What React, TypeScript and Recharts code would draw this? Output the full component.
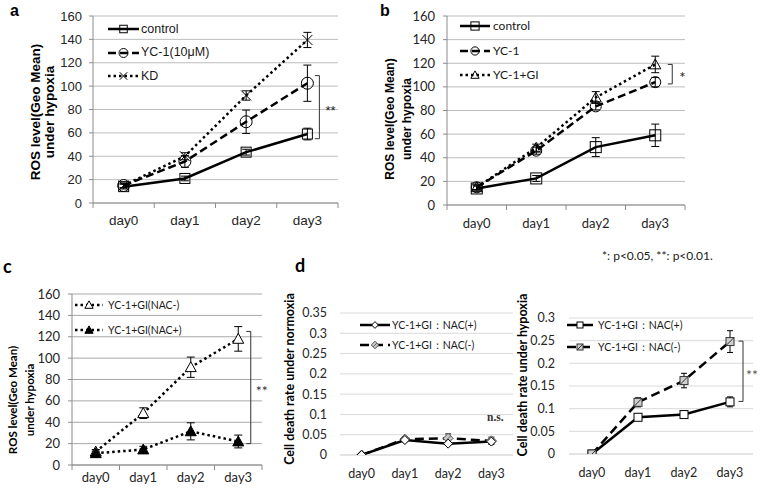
import React from 'react';
import { LineChart, Line, XAxis, YAxis, CartesianGrid, ErrorBar, Legend, ReferenceLine } from 'recharts';

// ---------- data ----------
const days = ['day0', 'day1', 'day2', 'day3'];
const dayIdx = [0, 1, 2, 3];
const rosTicks = [0, 20, 40, 60, 80, 100, 120, 140, 160];
const normoxiaTicks = [0, 0.05, 0.1, 0.15, 0.2, 0.25, 0.3, 0.35];
const hypoxiaTicks = [0, 0.05, 0.1, 0.15, 0.2, 0.25, 0.3];

// panel a
const aControl = [14, 21, 43.5, 59];
const aControlErr = [2, 2, 2.5, 5];
const aYC1 = [15, 35.5, 69.5, 102.5];
const aYC1Err = [2, 5, 10, 15.5];
const aKD = [15, 40, 92, 139.5];
const aKDErr = [2, 3, 4, 6.5];
const aSig = [109, 55];

// panel b
const bControl = [14, 22.5, 49, 59];
const bControlErr = [2, 2.5, 8, 9.5];
const bYC1 = [15, 46, 83.5, 104];
const bYC1Err = [2, 3, 3, 4];
const bGI = [15, 48.5, 91, 119];
const bGIErr = [2, 3, 5, 7];
const bSig = [119, 102.5];

// panel c
const cNACm = [12.5, 48.5, 91.5, 118];
const cNACmErr = [2, 5, 9.5, 11.5];
const cNACp = [11, 14.5, 31.5, 22];
const cNACpErr = [2, 3, 8, 6];
const cSig = [125, 20];

// panel d (normoxia)
const dnPlus = [0, 0.037, 0.028, 0.033];
const dnPlusErr = [0, 0.004, 0.004, 0.004];
const dnMinus = [0, 0.039, 0.041, 0.035];
const dnMinusErr = [0, 0.006, 0.011, 0.009];

// panel d (hypoxia)
const dhPlus = [0, 0.081, 0.087, 0.115];
const dhPlusErr = [0, 0.004, 0.007, 0.011];
const dhMinus = [0, 0.114, 0.162, 0.248];
const dhMinusErr = [0, 0.01, 0.016, 0.024];
const dSig = [0.249, 0.116];

// ---------- tables ----------
const rowsA = dayIdx.map((i) => ({ idx: i, day: days[i], control: aControl[i], controlErr: aControlErr[i], yc1: aYC1[i], yc1Err: aYC1Err[i], kd: aKD[i], kdErr: aKDErr[i] }));
const rowsB = dayIdx.map((i) => ({ idx: i, day: days[i], control: bControl[i], controlErr: bControlErr[i], yc1: bYC1[i], yc1Err: bYC1Err[i], gi: bGI[i], giErr: bGIErr[i] }));
const rowsC = dayIdx.map((i) => ({ idx: i, day: days[i], m: cNACm[i], mErr: cNACmErr[i], p: cNACp[i], pErr: cNACpErr[i] }));
const rowsDN = dayIdx.map((i) => ({ idx: i, day: days[i], p: dnPlus[i], pErr: dnPlusErr[i], m: dnMinus[i], mErr: dnMinusErr[i] }));
const rowsDH = dayIdx.map((i) => ({ idx: i, day: days[i], p: dhPlus[i], pErr: dhPlusErr[i], m: dhMinus[i], mErr: dhMinusErr[i] }));

const ARIAL = '"Liberation Sans", Arial, sans-serif';
const CAL = 'Lato, "Noto Sans", sans-serif';

// ---------- markers ----------
function Marker({ kind, cx, cy, size }: { kind: string; cx: number; cy: number; size: number }) {
  const h = size / 2;
  switch (kind) {
    case 'square':
      return <rect x={cx - h} y={cy - h} width={size} height={size} fill="none" stroke="#000" strokeWidth={1} />;
    case 'squareWhite':
      return <rect x={cx - h} y={cy - h} width={size} height={size} fill="#fff" stroke="#000" strokeWidth={1} />;
    case 'squareHatch':
      return (
        <g>
          <rect x={cx - h} y={cy - h} width={size} height={size} fill="#cfcfcf" stroke="#333" strokeWidth={1} />
          <line x1={cx - h} y1={cy + h} x2={cx + h} y2={cy - h} stroke="#333" strokeWidth={1} />
        </g>
      );
    case 'circle':
      return <circle cx={cx} cy={cy} r={h} fill="none" stroke="#000" strokeWidth={1} />;
    case 'cross':
      return <path d={`M${cx - h},${cy - h}L${cx + h},${cy + h}M${cx - h},${cy + h}L${cx + h},${cy - h}`} stroke="#000" strokeWidth={1} fill="none" />;
    case 'triangle':
      return <path d={`M${cx},${cy - h}L${cx + h},${cy + h * 0.8}L${cx - h},${cy + h * 0.8}Z`} fill="none" stroke="#000" strokeWidth={1} />;
    case 'triangleWhite':
      return <path d={`M${cx},${cy - h}L${cx + h},${cy + h * 0.8}L${cx - h},${cy + h * 0.8}Z`} fill="#fff" stroke="#000" strokeWidth={1} />;
    case 'triangleFilled':
      return <path d={`M${cx},${cy - h}L${cx + h},${cy + h * 0.8}L${cx - h},${cy + h * 0.8}Z`} fill="#000" stroke="#000" strokeWidth={1} />;
    case 'diamond':
      return <path d={`M${cx},${cy - h}L${cx + h},${cy}L${cx},${cy + h}L${cx - h},${cy}Z`} fill="#fff" stroke="#000" strokeWidth={1} />;
    case 'diamondHatch':
      return (
        <g>
          <path d={`M${cx},${cy - h}L${cx + h},${cy}L${cx},${cy + h}L${cx - h},${cy}Z`} fill="#c8c8c8" stroke="#555" strokeWidth={1} />
          <line x1={cx - h / 2} y1={cy + h / 2} x2={cx + h / 2} y2={cy - h / 2} stroke="#666" strokeWidth={1} />
        </g>
      );
    default:
      return null;
  }
}

type Series = { key: string; err: string; name: string; dash?: string; width: number; marker: string; size: number };

function LegendBox({ items, rowH, lineLen, gap, font, fontSize }: any) {
  return (
    <div style={{ display: 'flex', flexDirection: 'column' }}>
      {items.map((s: Series) => (
        <div key={s.key} style={{ height: rowH, display: 'flex', alignItems: 'center', whiteSpace: 'nowrap' }}>
          <svg width={lineLen} height={14} style={{ display: 'block' }}>
            <line x1={0} y1={7} x2={lineLen} y2={7} stroke="#000" strokeWidth={s.width} strokeDasharray={s.dash} />
            <Marker kind={s.marker} cx={lineLen / 2} cy={7} size={Math.max(6, s.size * 0.75)} />
          </svg>
          <span style={{ marginLeft: gap, fontFamily: font, fontSize, color: '#1a1a1a', lineHeight: 1 }}>{s.name}</span>
        </div>
      ))}
    </div>
  );
}

function Panel(cfg: any) {
  const { box, yw, mt, mr, xh, data, series, legendOrder, yDomain, yTicks, yFmt, font, yFont, xFont, grid, axis, yLine, xMarks, xGap, yTickMargin, cap, legend, sig } = cfg;
  const plotW = box.x1 - box.x0;
  const plotH = box.y1 - box.y0;
  const W = plotW + yw + mr;
  const H = plotH + mt + xh;
  const band = plotW / 4;
  const axisY = mt + plotH;
  const legendItems = legendOrder ? legendOrder.map((k: string) => series.find((s: Series) => s.key === k)) : series;

  const xTick = (p: any) => {
    const x = p.x;
    const i = p.payload.value;
    return (
      <g>
        {xMarks && <line x1={x - band / 2} x2={x - band / 2} y1={axisY} y2={axisY + 5} stroke={axis} strokeWidth={1} />}
        {xMarks && i === dayIdx[dayIdx.length - 1] && <line x1={x + band / 2} x2={x + band / 2} y1={axisY} y2={axisY + 5} stroke={axis} strokeWidth={1} />}
        <text x={x} y={axisY + xGap} textAnchor="middle" dominantBaseline="central" fontFamily={font} fontSize={xFont} fill="#262626">
          {days[i]}
        </text>
      </g>
    );
  };

  return (
    <div style={{ position: 'absolute', left: box.x0 - yw, top: box.y0 - mt, width: W, height: H }}>
      <LineChart width={W} height={H} data={data} margin={{ top: mt, right: mr, bottom: 0, left: 0 }}>
        <CartesianGrid vertical={false} stroke={grid} strokeWidth={1} />
        <XAxis
          type="number"
          dataKey="idx"
          domain={[-0.5, 3.5]}
          ticks={dayIdx}
          interval={0}
          height={xh}
          allowDataOverflow
          axisLine={{ stroke: axis, strokeWidth: 1 }}
          tickLine={false}
          tick={xTick}
        />
        <YAxis
          type="number"
          domain={yDomain}
          ticks={yTicks}
          interval={0}
          width={yw}
          allowDataOverflow
          axisLine={yLine ? { stroke: axis, strokeWidth: 1 } : false}
          tickLine={yLine ? { stroke: axis, strokeWidth: 1 } : false}
          tickSize={4}
          tickMargin={yTickMargin}
          tick={{ fill: '#262626', fontSize: yFont, fontFamily: font }}
          tickFormatter={yFmt}
        />
        {series.map((s: Series) => (
          <Line
            key={s.key}
            type="linear"
            dataKey={s.key}
            name={s.name}
            stroke="#000"
            strokeWidth={s.width}
            strokeDasharray={s.dash}
            activeDot={false}
            isAnimationActive={false}
            dot={(p: any) => <Marker key={`${s.key}-${p.index}`} kind={s.marker} cx={p.cx} cy={p.cy} size={s.size} />}
          >
            <ErrorBar dataKey={s.err} width={cap} strokeWidth={1} stroke="#000" direction="y" />
          </Line>
        ))}
        {sig && (
          <ReferenceLine
            segment={[{ x: dayIdx[3], y: sig.vals[0] }, { x: dayIdx[3], y: sig.vals[1] }]}
            shape={(p: any) => {
              const bx = p.x1 + sig.off;
              return (
                <g>
                  <path d={`M${bx - 4.5},${p.y1}H${bx}V${p.y2}H${bx - 4.5}`} stroke="#333" strokeWidth={1} fill="none" />
                  <text x={bx + sig.textOff} y={(p.y1 + p.y2) / 2 + 3} dominantBaseline="central" fontFamily={sig.font} fontSize={sig.size} fill={sig.color}>
                    {sig.label}
                  </text>
                </g>
              );
            }}
          />
        )}
        <Legend
          layout="vertical"
          align="center"
          verticalAlign="middle"
          wrapperStyle={{ left: legend.left, top: legend.top, width: 'auto', height: 'auto' }}
          content={() => <LegendBox items={legendItems} rowH={legend.rowH} lineLen={legend.lineLen} gap={legend.gap} font={font} fontSize={legend.fontSize} />}
        />
      </LineChart>
    </div>
  );
}

const seriesA: Series[] = [
  { key: 'control', err: 'controlErr', name: 'control', width: 2.5, marker: 'square', size: 10 },
  { key: 'yc1', err: 'yc1Err', name: 'YC-1(10μM)', dash: '8 4', width: 2.5, marker: 'circle', size: 12 },
  { key: 'kd', err: 'kdErr', name: 'KD', dash: '2.5 3', width: 2.5, marker: 'cross', size: 10 },
];
const seriesB: Series[] = [
  { key: 'control', err: 'controlErr', name: 'control', width: 2.5, marker: 'square', size: 11 },
  { key: 'yc1', err: 'yc1Err', name: 'YC-1', dash: '8 4', width: 2.5, marker: 'circle', size: 11 },
  { key: 'gi', err: 'giErr', name: 'YC-1+GI', dash: '2.5 3', width: 2.5, marker: 'triangle', size: 11 },
];
const seriesC: Series[] = [
  { key: 'm', err: 'mErr', name: 'YC-1+GI(NAC-)', dash: '2.5 3', width: 2.5, marker: 'triangleWhite', size: 11 },
  { key: 'p', err: 'pErr', name: 'YC-1+GI(NAC+)', dash: '2.5 3', width: 2.5, marker: 'triangleFilled', size: 11 },
];
const seriesDN: Series[] = [
  { key: 'm', err: 'mErr', name: 'YC-1+GI：NAC(-)', dash: '9 5', width: 2.5, marker: 'diamondHatch', size: 10 },
  { key: 'p', err: 'pErr', name: 'YC-1+GI：NAC(+)', width: 2.5, marker: 'diamond', size: 9 },
];
const legendOrderDN = ['p', 'm'];
const seriesDH: Series[] = [
  { key: 'p', err: 'pErr', name: 'YC-1+GI：NAC(+)', width: 2.5, marker: 'squareWhite', size: 8 },
  { key: 'm', err: 'mErr', name: 'YC-1+GI：NAC(-)', dash: '9 5', width: 2.5, marker: 'squareHatch', size: 8 },
];

const decFmt = (v: number) => String(Number(v.toFixed(2)));

export default function App() {
  return (
    <div style={{ position: 'absolute', left: 0, top: 0, width: 760, height: 492, background: '#fff', overflow: 'hidden' }}>
      <Panel
        box={{ x0: 93, x1: 338, y0: 16, y1: 203 }}
        yw={50} mt={8} mr={45} xh={32}
        data={rowsA} series={seriesA}
        yDomain={[0, 160]} yTicks={rosTicks}
        font={ARIAL} yFont={13} xFont={13.5}
        grid="#bdbdbd" axis="#8c8c8c" yLine xMarks xGap={17} yTickMargin={7} cap={4}
        legend={{ left: 65, top: 9.6, rowH: 23.4, lineLen: 31, gap: 2, fontSize: 12.5 }}
        sig={{ vals: aSig, off: 12, textOff: 6, label: '**', font: ARIAL, size: 13, color: '#222' }}
      />
      <Panel
        box={{ x0: 447, x1: 685, y0: 16, y1: 205 }}
        yw={50} mt={8} mr={30} xh={32}
        data={rowsB} series={seriesB}
        yDomain={[0, 160]} yTicks={rosTicks}
        font={CAL} yFont={13} xFont={13}
        grid="#bdbdbd" axis="#8c8c8c" yLine xMarks xGap={18} yTickMargin={8} cap={4}
        legend={{ left: 63, top: 5.75, rowH: 24.5, lineLen: 30, gap: 3, fontSize: 12 }}
        sig={{ vals: bSig, off: 17, textOff: 7, label: '*', font: CAL, size: 15, color: '#222' }}
      />
      <Panel
        box={{ x0: 72, x1: 262, y0: 294, y1: 465 }}
        yw={45} mt={8} mr={20} xh={25}
        data={rowsC} series={seriesC}
        yDomain={[0, 160]} yTicks={rosTicks}
        font={CAL} yFont={13} xFont={13}
        grid="#a8a8a8" axis="#8c8c8c" yLine xMarks xGap={12} yTickMargin={8} cap={4}
        legend={{ left: 48, top: 6.5, rowH: 25, lineLen: 28, gap: 5, fontSize: 10.5 }}
        sig={{ vals: cSig, off: 12.5, textOff: 5, label: '**', font: CAL, size: 14, color: '#333' }}
      />
      <Panel
        box={{ x0: 340, x1: 513, y0: 313, y1: 455 }}
        yw={40} mt={8} mr={5} xh={30}
        data={rowsDN} series={seriesDN} legendOrder={legendOrderDN}
        yDomain={[0, 0.35]} yTicks={normoxiaTicks} yFmt={decFmt}
        font={CAL} yFont={12.5} xFont={12.5}
        grid="#dadada" axis="#dadada" yLine={false} xMarks={false} xGap={18} yTickMargin={9} cap={3}
        legend={{ left: 60, top: 10, rowH: 20, lineLen: 30, gap: 2, fontSize: 10.5 }}
      />
      <Panel
        box={{ x0: 569, x1: 753, y0: 318, y1: 454 }}
        yw={40} mt={8} mr={7} xh={30}
        data={rowsDH} series={seriesDH}
        yDomain={[0, 0.3]} yTicks={hypoxiaTicks} yFmt={decFmt}
        font={CAL} yFont={12.5} xFont={12.5}
        grid="#dadada" axis="#dadada" yLine={false} xMarks={false} xGap={18} yTickMargin={10} cap={3}
        legend={{ left: 38, top: 4, rowH: 22, lineLen: 26, gap: 5, fontSize: 10.5 }}
        sig={{ vals: dSig, off: 13, textOff: 3, label: '**', font: CAL, size: 14, color: '#555' }}
      />
      <svg width={760} height={492} style={{ position: 'absolute', left: 0, top: 0, pointerEvents: 'none' }}>
        <text x={10} y={16} fontFamily={ARIAL} fontWeight="bold" fontSize={16} fill="#000">a</text>
        <text x={380} y={16} fontFamily={ARIAL} fontWeight="bold" fontSize={16} fill="#000">b</text>
        <text x={3} y={273} fontFamily={CAL} fontWeight="bold" fontSize={18} fill="#000">c</text>
        <text x={295} y={272} fontFamily={CAL} fontWeight="bold" fontSize={18} fill="#000">d</text>

        <g fontFamily={ARIAL} fontWeight="bold" fontSize={13.5} fill="#000" textAnchor="middle" dominantBaseline="central">
          <text transform="translate(35,112) rotate(-90)">ROS level(Geo Mean)</text>
          <text transform="translate(49,112) rotate(-90)">under hypoxia</text>
        </g>
        <g fontFamily={ARIAL} fontWeight="bold" fontSize={12} fill="#000" textAnchor="middle" dominantBaseline="central">
          <text transform="translate(390,119) rotate(-90)">ROS level(Geo Mean)</text>
          <text transform="translate(407,119) rotate(-90)">under hypoxia</text>
        </g>
        <g fontFamily={CAL} fontWeight="bold" fontSize={11.5} fill="#000" textAnchor="middle" dominantBaseline="central">
          <text transform="translate(12.5,400) rotate(-90)">ROS level(Geo Mean)</text>
          <text transform="translate(29,400) rotate(-90)">under hypoxia</text>
        </g>
        <g fontFamily={CAL} fontWeight="bold" fontSize={12.5} fill="#000" textAnchor="middle" dominantBaseline="central">
          <text transform="translate(289,379) rotate(-90)">Cell death rate under normoxia</text>
          <text transform="translate(522,375) rotate(-90)">Cell death rate under hypoxia</text>
        </g>
        <text x={602} y={255} dominantBaseline="central" fontFamily={CAL} fontSize={12} fill="#1a1a1a">*: p&lt;0.05, **: p&lt;0.01.</text>
        <text x={487} y={417} dominantBaseline="central" fontFamily={'"Liberation Serif", "DejaVu Serif", serif'} fontWeight="bold" fontSize={11.5} fill="#333">n.s.</text>
      </svg>
    </div>
  );
}
